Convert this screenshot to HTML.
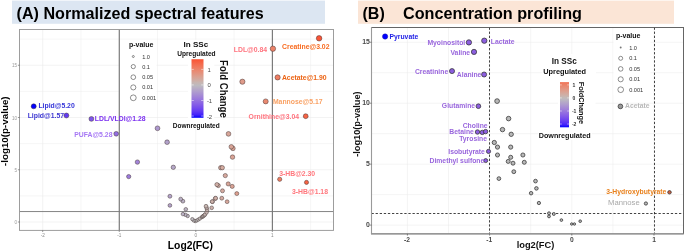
<!DOCTYPE html>
<html><head><meta charset="utf-8"><style>
html,body{margin:0;padding:0;background:#fff;}
body{width:685px;height:252px;overflow:hidden;font-family:"Liberation Sans",sans-serif;}
svg{display:block;will-change:transform;}
</style></head><body>
<svg width="685" height="252" viewBox="0 0 685 252">
<rect width="685" height="252" fill="#fff"/>
<rect x="12" y="0.6" width="313" height="23.2" fill="#dce6f2"/>
<rect x="358" y="0.6" width="316" height="23.2" fill="#fbe5d6"/>
<text x="16.6" y="19.0" font-family="&quot;Liberation Sans&quot;, sans-serif" font-weight="bold" font-size="16.12" fill="#000">(A) Normalized spectral features</text>
<text x="362.5" y="19.0" font-family="&quot;Liberation Sans&quot;, sans-serif" font-weight="bold" font-size="16" fill="#000">(B)</text>
<text x="403" y="19.0" font-family="&quot;Liberation Sans&quot;, sans-serif" font-weight="bold" font-size="16.19" fill="#000">Concentration profiling</text>
<line x1="42.70" y1="29.5" x2="42.70" y2="230.4" stroke="#ebebeb" stroke-width="0.6"/>
<line x1="80.98" y1="29.5" x2="80.98" y2="230.4" stroke="#ebebeb" stroke-width="0.45"/>
<line x1="119.25" y1="29.5" x2="119.25" y2="230.4" stroke="#ebebeb" stroke-width="0.6"/>
<line x1="157.53" y1="29.5" x2="157.53" y2="230.4" stroke="#ebebeb" stroke-width="0.45"/>
<line x1="195.80" y1="29.5" x2="195.80" y2="230.4" stroke="#ebebeb" stroke-width="0.6"/>
<line x1="234.08" y1="29.5" x2="234.08" y2="230.4" stroke="#ebebeb" stroke-width="0.45"/>
<line x1="272.35" y1="29.5" x2="272.35" y2="230.4" stroke="#ebebeb" stroke-width="0.6"/>
<line x1="310.62" y1="29.5" x2="310.62" y2="230.4" stroke="#ebebeb" stroke-width="0.45"/>
<line x1="19.5" y1="222.00" x2="333.5" y2="222.00" stroke="#ebebeb" stroke-width="0.6"/>
<line x1="19.5" y1="195.88" x2="333.5" y2="195.88" stroke="#ebebeb" stroke-width="0.45"/>
<line x1="19.5" y1="169.75" x2="333.5" y2="169.75" stroke="#ebebeb" stroke-width="0.6"/>
<line x1="19.5" y1="143.62" x2="333.5" y2="143.62" stroke="#ebebeb" stroke-width="0.45"/>
<line x1="19.5" y1="117.50" x2="333.5" y2="117.50" stroke="#ebebeb" stroke-width="0.6"/>
<line x1="19.5" y1="91.38" x2="333.5" y2="91.38" stroke="#ebebeb" stroke-width="0.45"/>
<line x1="19.5" y1="65.25" x2="333.5" y2="65.25" stroke="#ebebeb" stroke-width="0.6"/>
<line x1="19.5" y1="39.12" x2="333.5" y2="39.12" stroke="#ebebeb" stroke-width="0.45"/>
<line x1="119.25" y1="29.5" x2="119.25" y2="230.4" stroke="#555" stroke-width="0.9"/>
<line x1="272.35" y1="29.5" x2="272.35" y2="230.4" stroke="#555" stroke-width="0.9"/>
<line x1="19.5" y1="211.55" x2="333.5" y2="211.55" stroke="#777" stroke-width="0.9"/>
<rect x="120" y="40" width="36.5" height="63" fill="#fff"/>
<text x="141.2" y="46.6" font-family="&quot;Liberation Sans&quot;, sans-serif" font-weight="bold" font-size="7" fill="#111" text-anchor="middle">p-value</text>
<circle cx="133.3" cy="56.5" r="1.0" fill="#fff" stroke="#333" stroke-width="0.55"/>
<text x="142.2" y="58.5" font-family="&quot;Liberation Sans&quot;, sans-serif" font-size="5.6" fill="#333">1.0</text>
<circle cx="133.3" cy="66.6" r="2.1" fill="#fff" stroke="#333" stroke-width="0.55"/>
<text x="142.2" y="68.6" font-family="&quot;Liberation Sans&quot;, sans-serif" font-size="5.6" fill="#333">0.1</text>
<circle cx="133.3" cy="77.2" r="2.35" fill="#fff" stroke="#333" stroke-width="0.55"/>
<text x="142.2" y="79.2" font-family="&quot;Liberation Sans&quot;, sans-serif" font-size="5.6" fill="#333">0.05</text>
<circle cx="133.3" cy="87.4" r="2.55" fill="#fff" stroke="#333" stroke-width="0.55"/>
<text x="142.2" y="89.4" font-family="&quot;Liberation Sans&quot;, sans-serif" font-size="5.6" fill="#333">0.01</text>
<circle cx="133.3" cy="97.8" r="2.9" fill="#fff" stroke="#333" stroke-width="0.55"/>
<text x="142.2" y="99.8" font-family="&quot;Liberation Sans&quot;, sans-serif" font-size="5.6" fill="#333">0.001</text>
<rect x="172" y="39.8" width="48" height="17.5" fill="#fff"/>
<rect x="188" y="57" width="26.3" height="64" fill="#fff"/>
<rect x="170" y="121" width="52" height="8" fill="#fff"/>
<text x="195.9" y="46.5" font-family="&quot;Liberation Sans&quot;, sans-serif" font-weight="bold" font-size="8.1" fill="#111" text-anchor="middle">In SSc</text>
<text x="196.4" y="55.9" font-family="&quot;Liberation Sans&quot;, sans-serif" font-weight="bold" font-size="6.6" fill="#111" text-anchor="middle">Upregulated</text>
<text x="196.2" y="127.6" font-family="&quot;Liberation Sans&quot;, sans-serif" font-weight="bold" font-size="6.5" fill="#111" text-anchor="middle">Downregulated</text>
<defs><linearGradient id="gA" x1="0" y1="0" x2="0" y2="1"><stop offset="0.000" stop-color="#fa5233"/><stop offset="0.050" stop-color="#f66243"/><stop offset="0.100" stop-color="#f37053"/><stop offset="0.150" stop-color="#ee7d62"/><stop offset="0.200" stop-color="#e98a72"/><stop offset="0.250" stop-color="#e29581"/><stop offset="0.300" stop-color="#dba191"/><stop offset="0.350" stop-color="#d2aba1"/><stop offset="0.400" stop-color="#c7b6b2"/><stop offset="0.450" stop-color="#bdbac0"/><stop offset="0.500" stop-color="#b7acc6"/><stop offset="0.550" stop-color="#b09ecd"/><stop offset="0.600" stop-color="#a890d3"/><stop offset="0.650" stop-color="#a081d9"/><stop offset="0.700" stop-color="#9673df"/><stop offset="0.750" stop-color="#8b64e4"/><stop offset="0.800" stop-color="#7e55ea"/><stop offset="0.850" stop-color="#6f46ef"/><stop offset="0.900" stop-color="#5c35f5"/><stop offset="0.950" stop-color="#4221fa"/><stop offset="1.000" stop-color="#0000ff"/></linearGradient>
<linearGradient id="gB" x1="0" y1="0" x2="0" y2="1"><stop offset="0.000" stop-color="#f17457"/><stop offset="0.050" stop-color="#ed8065"/><stop offset="0.100" stop-color="#e88b73"/><stop offset="0.150" stop-color="#e39581"/><stop offset="0.200" stop-color="#dc9f8f"/><stop offset="0.250" stop-color="#d4a99d"/><stop offset="0.300" stop-color="#ccb2ab"/><stop offset="0.350" stop-color="#c1bbba"/><stop offset="0.400" stop-color="#bab5c2"/><stop offset="0.450" stop-color="#b5a8c8"/><stop offset="0.500" stop-color="#af9cce"/><stop offset="0.550" stop-color="#a88fd3"/><stop offset="0.600" stop-color="#a182d8"/><stop offset="0.650" stop-color="#9876de"/><stop offset="0.700" stop-color="#8f69e3"/><stop offset="0.750" stop-color="#845ce8"/><stop offset="0.800" stop-color="#784eec"/><stop offset="0.850" stop-color="#6940f1"/><stop offset="0.900" stop-color="#5731f6"/><stop offset="0.950" stop-color="#3e1ffa"/><stop offset="1.000" stop-color="#0000ff"/></linearGradient></defs>
<rect x="191.5" y="59.2" width="12" height="58.6" fill="url(#gA)"/>
<line x1="191.5" y1="69.4" x2="193.8" y2="69.4" stroke="#fff" stroke-width="0.5"/>
<line x1="201.2" y1="69.4" x2="203.5" y2="69.4" stroke="#fff" stroke-width="0.5"/>
<text x="207.5" y="71.5" font-family="&quot;Liberation Sans&quot;, sans-serif" font-size="5.9" fill="#444">1</text>
<line x1="191.5" y1="84.9" x2="193.8" y2="84.9" stroke="#fff" stroke-width="0.5"/>
<line x1="201.2" y1="84.9" x2="203.5" y2="84.9" stroke="#fff" stroke-width="0.5"/>
<text x="207.5" y="87.0" font-family="&quot;Liberation Sans&quot;, sans-serif" font-size="5.9" fill="#444">0</text>
<line x1="191.5" y1="100.5" x2="193.8" y2="100.5" stroke="#fff" stroke-width="0.5"/>
<line x1="201.2" y1="100.5" x2="203.5" y2="100.5" stroke="#fff" stroke-width="0.5"/>
<text x="206.9" y="102.5" font-family="&quot;Liberation Sans&quot;, sans-serif" font-size="5.9" fill="#444">-1</text>
<line x1="191.5" y1="116.0" x2="193.8" y2="116.0" stroke="#fff" stroke-width="0.5"/>
<line x1="201.2" y1="116.0" x2="203.5" y2="116.0" stroke="#fff" stroke-width="0.5"/>
<text x="206.9" y="118.6" font-family="&quot;Liberation Sans&quot;, sans-serif" font-size="5.9" fill="#444">-2</text>
<text transform="translate(219.5,88.9) rotate(90)" font-family="&quot;Liberation Sans&quot;, sans-serif" font-weight="bold" font-size="10.4" fill="#111" text-anchor="middle" textLength="57.6" lengthAdjust="spacingAndGlyphs">Fold Change</text>
<rect x="19.5" y="29.5" width="314.0" height="200.9" fill="none" stroke="#999" stroke-width="0.95"/>
<line x1="17.9" y1="222.00" x2="19.5" y2="222.00" stroke="#555" stroke-width="0.6"/>
<text x="17.0" y="224.00" font-family="&quot;Liberation Sans&quot;, sans-serif" font-size="4.6" fill="#999" text-anchor="end">0</text>
<line x1="17.9" y1="169.75" x2="19.5" y2="169.75" stroke="#555" stroke-width="0.6"/>
<text x="17.0" y="171.75" font-family="&quot;Liberation Sans&quot;, sans-serif" font-size="4.6" fill="#999" text-anchor="end">5</text>
<line x1="17.9" y1="117.50" x2="19.5" y2="117.50" stroke="#555" stroke-width="0.6"/>
<text x="17.0" y="119.50" font-family="&quot;Liberation Sans&quot;, sans-serif" font-size="4.6" fill="#999" text-anchor="end">10</text>
<line x1="17.9" y1="65.25" x2="19.5" y2="65.25" stroke="#555" stroke-width="0.6"/>
<text x="17.0" y="67.25" font-family="&quot;Liberation Sans&quot;, sans-serif" font-size="4.6" fill="#999" text-anchor="end">15</text>
<line x1="42.70" y1="230.4" x2="42.70" y2="232.0" stroke="#555" stroke-width="0.6"/>
<text x="42.70" y="236.80" font-family="&quot;Liberation Sans&quot;, sans-serif" font-size="4.6" fill="#888" text-anchor="middle">-2</text>
<line x1="119.25" y1="230.4" x2="119.25" y2="232.0" stroke="#555" stroke-width="0.6"/>
<text x="119.25" y="236.80" font-family="&quot;Liberation Sans&quot;, sans-serif" font-size="4.6" fill="#888" text-anchor="middle">-1</text>
<line x1="195.80" y1="230.4" x2="195.80" y2="232.0" stroke="#555" stroke-width="0.6"/>
<text x="195.80" y="236.80" font-family="&quot;Liberation Sans&quot;, sans-serif" font-size="4.6" fill="#888" text-anchor="middle">0</text>
<line x1="272.35" y1="230.4" x2="272.35" y2="232.0" stroke="#555" stroke-width="0.6"/>
<text x="272.35" y="236.80" font-family="&quot;Liberation Sans&quot;, sans-serif" font-size="4.6" fill="#888" text-anchor="middle">1</text>
<text x="190.4" y="248.8" font-family="&quot;Liberation Sans&quot;, sans-serif" font-weight="bold" font-size="10.3" fill="#000" text-anchor="middle">Log2(FC)</text>
<text transform="translate(7.6,131.2) rotate(-90)" font-family="&quot;Liberation Sans&quot;, sans-serif" font-weight="bold" font-size="9.8" fill="#000" text-anchor="middle">-log10(p-value)</text>
<circle cx="195.2" cy="221.2" r="1.58" fill="#bebdbe" stroke="#3c2e2e" stroke-opacity="0.85" stroke-width="0.55"/>
<circle cx="193.7" cy="220.5" r="1.61" fill="#bdbcbf" stroke="#3c2e2e" stroke-opacity="0.85" stroke-width="0.55"/>
<circle cx="196.8" cy="220.5" r="1.61" fill="#bfbdbd" stroke="#3c2e2e" stroke-opacity="0.85" stroke-width="0.55"/>
<circle cx="198.3" cy="219.6" r="1.64" fill="#c0bcbb" stroke="#3c2e2e" stroke-opacity="0.85" stroke-width="0.55"/>
<circle cx="192.3" cy="219.1" r="1.66" fill="#bdbbc0" stroke="#3c2e2e" stroke-opacity="0.85" stroke-width="0.55"/>
<circle cx="199.9" cy="218.6" r="1.67" fill="#c2bbb9" stroke="#3c2e2e" stroke-opacity="0.85" stroke-width="0.55"/>
<circle cx="201.9" cy="217.1" r="1.71" fill="#c3bab7" stroke="#3c2e2e" stroke-opacity="0.85" stroke-width="0.55"/>
<circle cx="202.6" cy="216.6" r="1.72" fill="#c4b9b6" stroke="#3c2e2e" stroke-opacity="0.85" stroke-width="0.55"/>
<circle cx="187.7" cy="216" r="1.73" fill="#bbb6c2" stroke="#3c2e2e" stroke-opacity="0.85" stroke-width="0.55"/>
<circle cx="203.3" cy="216" r="1.73" fill="#c5b9b5" stroke="#3c2e2e" stroke-opacity="0.85" stroke-width="0.55"/>
<circle cx="204.3" cy="215.3" r="1.74" fill="#c5b8b4" stroke="#3c2e2e" stroke-opacity="0.85" stroke-width="0.55"/>
<circle cx="185.4" cy="214.8" r="1.75" fill="#bab4c3" stroke="#3c2e2e" stroke-opacity="0.85" stroke-width="0.55"/>
<circle cx="205" cy="214.5" r="1.75" fill="#c6b7b4" stroke="#3c2e2e" stroke-opacity="0.85" stroke-width="0.55"/>
<circle cx="182.9" cy="214.1" r="1.76" fill="#b9b1c4" stroke="#3c2e2e" stroke-opacity="0.85" stroke-width="0.55"/>
<circle cx="206.6" cy="212.4" r="1.79" fill="#c7b6b2" stroke="#3c2e2e" stroke-opacity="0.85" stroke-width="0.55"/>
<circle cx="207.1" cy="209.9" r="1.82" fill="#c8b6b1" stroke="#3c2e2e" stroke-opacity="0.85" stroke-width="0.55"/>
<circle cx="185.8" cy="209.3" r="1.83" fill="#bab4c3" stroke="#3c2e2e" stroke-opacity="0.85" stroke-width="0.55"/>
<circle cx="206.6" cy="207.8" r="1.85" fill="#c7b6b2" stroke="#3c2e2e" stroke-opacity="0.85" stroke-width="0.55"/>
<circle cx="211.7" cy="207.8" r="1.85" fill="#cbb2ac" stroke="#3c2e2e" stroke-opacity="0.85" stroke-width="0.55"/>
<circle cx="206" cy="206.2" r="1.87" fill="#c7b7b2" stroke="#3c2e2e" stroke-opacity="0.85" stroke-width="0.55"/>
<circle cx="169.9" cy="205.4" r="1.88" fill="#b3a4ca" stroke="#3c2e2e" stroke-opacity="0.85" stroke-width="0.55"/>
<circle cx="212.5" cy="201.7" r="1.92" fill="#ccb2ab" stroke="#3c2e2e" stroke-opacity="0.85" stroke-width="0.55"/>
<circle cx="227.1" cy="201.7" r="1.92" fill="#d6a79b" stroke="#3c2e2e" stroke-opacity="0.85" stroke-width="0.55"/>
<circle cx="212.2" cy="201.6" r="1.92" fill="#ccb2ab" stroke="#3c2e2e" stroke-opacity="0.85" stroke-width="0.55"/>
<circle cx="182.9" cy="201.2" r="1.92" fill="#b9b1c4" stroke="#3c2e2e" stroke-opacity="0.85" stroke-width="0.55"/>
<circle cx="180.7" cy="199.1" r="1.94" fill="#b8afc5" stroke="#3c2e2e" stroke-opacity="0.85" stroke-width="0.55"/>
<circle cx="215.3" cy="198.5" r="1.95" fill="#ceb0a8" stroke="#3c2e2e" stroke-opacity="0.85" stroke-width="0.55"/>
<circle cx="215.6" cy="198.2" r="1.95" fill="#ceb0a8" stroke="#3c2e2e" stroke-opacity="0.85" stroke-width="0.55"/>
<circle cx="221.8" cy="198.2" r="1.95" fill="#d2aba1" stroke="#3c2e2e" stroke-opacity="0.85" stroke-width="0.55"/>
<circle cx="169.9" cy="196.25" r="1.97" fill="#b3a4ca" stroke="#3c2e2e" stroke-opacity="0.85" stroke-width="0.55"/>
<circle cx="236.8" cy="193.6" r="1.99" fill="#dca090" stroke="#3c2e2e" stroke-opacity="0.85" stroke-width="0.55"/>
<circle cx="222.5" cy="190.8" r="2.02" fill="#d3aaa0" stroke="#3c2e2e" stroke-opacity="0.85" stroke-width="0.55"/>
<circle cx="232.2" cy="186.4" r="2.05" fill="#d9a395" stroke="#3c2e2e" stroke-opacity="0.85" stroke-width="0.55"/>
<circle cx="218.3" cy="185.6" r="2.06" fill="#d0aea5" stroke="#3c2e2e" stroke-opacity="0.85" stroke-width="0.55"/>
<circle cx="216.9" cy="184.6" r="2.07" fill="#cfafa6" stroke="#3c2e2e" stroke-opacity="0.85" stroke-width="0.55"/>
<circle cx="228.2" cy="183.9" r="2.07" fill="#d7a699" stroke="#3c2e2e" stroke-opacity="0.85" stroke-width="0.55"/>
<circle cx="306.5" cy="182.4" r="2.08" fill="#f66344" stroke="#3c2e2e" stroke-opacity="0.85" stroke-width="0.55"/>
<circle cx="279.7" cy="179.3" r="2.11" fill="#ee7d61" stroke="#3c2e2e" stroke-opacity="0.85" stroke-width="0.55"/>
<circle cx="128.7" cy="176.6" r="2.13" fill="#9c7bdb" stroke="#3c2e2e" stroke-opacity="0.85" stroke-width="0.55"/>
<circle cx="225.3" cy="175.6" r="2.13" fill="#d5a89d" stroke="#3c2e2e" stroke-opacity="0.85" stroke-width="0.55"/>
<circle cx="220.7" cy="167.7" r="2.18" fill="#d2aca2" stroke="#3c2e2e" stroke-opacity="0.85" stroke-width="0.55"/>
<circle cx="222.3" cy="167.7" r="2.18" fill="#d3aba0" stroke="#3c2e2e" stroke-opacity="0.85" stroke-width="0.55"/>
<circle cx="173.3" cy="167.3" r="2.19" fill="#b5a8c8" stroke="#3c2e2e" stroke-opacity="0.85" stroke-width="0.55"/>
<circle cx="137.4" cy="162.1" r="2.22" fill="#a284d8" stroke="#3c2e2e" stroke-opacity="0.85" stroke-width="0.55"/>
<circle cx="232.5" cy="157.1" r="2.25" fill="#d9a395" stroke="#3c2e2e" stroke-opacity="0.85" stroke-width="0.55"/>
<circle cx="232.9" cy="148.4" r="2.30" fill="#d9a394" stroke="#3c2e2e" stroke-opacity="0.85" stroke-width="0.55"/>
<circle cx="231.3" cy="146.8" r="2.30" fill="#d8a496" stroke="#3c2e2e" stroke-opacity="0.85" stroke-width="0.55"/>
<circle cx="167.1" cy="142.2" r="2.33" fill="#b2a2cb" stroke="#3c2e2e" stroke-opacity="0.85" stroke-width="0.55"/>
<circle cx="228.5" cy="133.9" r="2.37" fill="#d7a699" stroke="#3c2e2e" stroke-opacity="0.85" stroke-width="0.55"/>
<circle cx="116.2" cy="133.8" r="2.37" fill="#936fe0" stroke="#3c2e2e" stroke-opacity="0.85" stroke-width="0.55"/>
<circle cx="157.5" cy="128.3" r="2.40" fill="#ad98cf" stroke="#3c2e2e" stroke-opacity="0.85" stroke-width="0.55"/>
<circle cx="91.4" cy="118.9" r="2.44" fill="#7e56ea" stroke="#3c2e2e" stroke-opacity="0.85" stroke-width="0.55"/>
<circle cx="305.7" cy="116.2" r="2.45" fill="#f66445" stroke="#3c2e2e" stroke-opacity="0.85" stroke-width="0.55"/>
<circle cx="66.4" cy="115.5" r="2.46" fill="#623af3" stroke="#3c2e2e" stroke-opacity="0.85" stroke-width="0.55"/>
<circle cx="33.7" cy="106.3" r="2.50" fill="#0201ff" stroke="#3c2e2e" stroke-opacity="0.85" stroke-width="0.55"/>
<circle cx="265.7" cy="101.4" r="2.52" fill="#e98970" stroke="#3c2e2e" stroke-opacity="0.85" stroke-width="0.55"/>
<circle cx="242.4" cy="81.7" r="2.60" fill="#df9b8a" stroke="#3c2e2e" stroke-opacity="0.85" stroke-width="0.55"/>
<circle cx="277.6" cy="77.4" r="2.62" fill="#ee7e63" stroke="#3c2e2e" stroke-opacity="0.85" stroke-width="0.55"/>
<circle cx="272.9" cy="48.7" r="2.72" fill="#ec8268" stroke="#3c2e2e" stroke-opacity="0.85" stroke-width="0.55"/>
<circle cx="319.1" cy="38.3" r="2.76" fill="#f95537" stroke="#3c2e2e" stroke-opacity="0.85" stroke-width="0.55"/>
<text x="38.4" y="107.95" font-family="&quot;Liberation Sans&quot;, sans-serif" font-weight="bold" font-size="6.85" fill="#3434d8">Lipid@5.20</text>
<text x="27.7" y="118.25" font-family="&quot;Liberation Sans&quot;, sans-serif" font-weight="bold" font-size="6.85" fill="#3c36d2">Lipid@1.57</text>
<text x="94.8" y="121.15" font-family="&quot;Liberation Sans&quot;, sans-serif" font-weight="bold" font-size="6.85" fill="#7a2ef0">LDL/VLDl@1.28</text>
<text x="74.2" y="136.65" font-family="&quot;Liberation Sans&quot;, sans-serif" font-weight="bold" font-size="6.85" fill="#a678f4">PUFA@5.28</text>
<text x="233.8" y="51.95" font-family="&quot;Liberation Sans&quot;, sans-serif" font-weight="bold" font-size="6.85" fill="#ff737e">LDL@0.84</text>
<text x="282.1" y="48.55" font-family="&quot;Liberation Sans&quot;, sans-serif" font-weight="bold" font-size="6.85" fill="#f86a1e">Creatine@3.02</text>
<text x="281.9" y="80.05" font-family="&quot;Liberation Sans&quot;, sans-serif" font-weight="bold" font-size="6.85" fill="#ec6414">Acetate@1.90</text>
<text x="272.9" y="104.35" font-family="&quot;Liberation Sans&quot;, sans-serif" font-weight="bold" font-size="6.85" fill="#f9a062">Mannose@5.17</text>
<text x="248.6" y="119.35" font-family="&quot;Liberation Sans&quot;, sans-serif" font-weight="bold" font-size="6.85" fill="#ff737e">Ornithine@3.04</text>
<text x="279.2" y="175.75" font-family="&quot;Liberation Sans&quot;, sans-serif" font-weight="bold" font-size="6.85" fill="#ff767c">3-HB@2.30</text>
<text x="292.0" y="193.85" font-family="&quot;Liberation Sans&quot;, sans-serif" font-weight="bold" font-size="6.85" fill="#ff767c">3-HB@1.18</text>
<line x1="407.40" y1="27.5" x2="407.40" y2="233.8" stroke="#ebebeb" stroke-width="0.55"/>
<line x1="448.50" y1="27.5" x2="448.50" y2="233.8" stroke="#ebebeb" stroke-width="0.55"/>
<line x1="489.60" y1="27.5" x2="489.60" y2="233.8" stroke="#ebebeb" stroke-width="0.55"/>
<line x1="530.70" y1="27.5" x2="530.70" y2="233.8" stroke="#ebebeb" stroke-width="0.55"/>
<line x1="571.80" y1="27.5" x2="571.80" y2="233.8" stroke="#ebebeb" stroke-width="0.55"/>
<line x1="612.90" y1="27.5" x2="612.90" y2="233.8" stroke="#ebebeb" stroke-width="0.55"/>
<line x1="654.00" y1="27.5" x2="654.00" y2="233.8" stroke="#ebebeb" stroke-width="0.55"/>
<line x1="371.5" y1="225.10" x2="683.5" y2="225.10" stroke="#ebebeb" stroke-width="0.55"/>
<line x1="371.5" y1="194.62" x2="683.5" y2="194.62" stroke="#ebebeb" stroke-width="0.55"/>
<line x1="371.5" y1="164.15" x2="683.5" y2="164.15" stroke="#ebebeb" stroke-width="0.55"/>
<line x1="371.5" y1="133.68" x2="683.5" y2="133.68" stroke="#ebebeb" stroke-width="0.55"/>
<line x1="371.5" y1="103.20" x2="683.5" y2="103.20" stroke="#ebebeb" stroke-width="0.55"/>
<line x1="371.5" y1="72.72" x2="683.5" y2="72.72" stroke="#ebebeb" stroke-width="0.55"/>
<line x1="371.5" y1="42.25" x2="683.5" y2="42.25" stroke="#ebebeb" stroke-width="0.55"/>
<rect x="613.5" y="29" width="37" height="66" fill="#fff"/>
<text x="628.2" y="38.4" font-family="&quot;Liberation Sans&quot;, sans-serif" font-weight="bold" font-size="7" fill="#111" text-anchor="middle">p-value</text>
<circle cx="620.7" cy="47.5" r="0.95" fill="#777"/>
<text x="629.2" y="49.5" font-family="&quot;Liberation Sans&quot;, sans-serif" font-size="5.6" fill="#333">1.0</text>
<circle cx="620.7" cy="58.3" r="2.0" fill="#fff" stroke="#333" stroke-width="0.55"/>
<text x="629.2" y="60.3" font-family="&quot;Liberation Sans&quot;, sans-serif" font-size="5.6" fill="#333">0.1</text>
<circle cx="620.7" cy="68.9" r="2.3" fill="#fff" stroke="#333" stroke-width="0.55"/>
<text x="629.2" y="70.9" font-family="&quot;Liberation Sans&quot;, sans-serif" font-size="5.6" fill="#333">0.05</text>
<circle cx="620.7" cy="79.3" r="2.55" fill="#fff" stroke="#333" stroke-width="0.55"/>
<text x="629.2" y="81.3" font-family="&quot;Liberation Sans&quot;, sans-serif" font-size="5.6" fill="#333">0.01</text>
<circle cx="620.7" cy="89.7" r="2.85" fill="#fff" stroke="#333" stroke-width="0.55"/>
<text x="629.2" y="91.7" font-family="&quot;Liberation Sans&quot;, sans-serif" font-size="5.6" fill="#333">0.001</text>
<rect x="542" y="54" width="54" height="25" fill="#fff"/>
<rect x="558" y="79" width="37.5" height="50" fill="#fff"/>
<rect x="538" y="129" width="54" height="11" fill="#fff"/>
<text x="564.2" y="64.0" font-family="&quot;Liberation Sans&quot;, sans-serif" font-weight="bold" font-size="8.2" fill="#111" text-anchor="middle">In SSc</text>
<text x="564.7" y="74.1" font-family="&quot;Liberation Sans&quot;, sans-serif" font-weight="bold" font-size="7.35" fill="#111" text-anchor="middle">Upregulated</text>
<text x="564.7" y="138.4" font-family="&quot;Liberation Sans&quot;, sans-serif" font-weight="bold" font-size="7.2" fill="#111" text-anchor="middle">Downregulated</text>
<rect x="560" y="82.1" width="9" height="45.2" fill="url(#gB)"/>
<line x1="560" y1="84.9" x2="561.8" y2="84.9" stroke="#fff" stroke-width="0.5"/>
<line x1="567.2" y1="84.9" x2="569" y2="84.9" stroke="#fff" stroke-width="0.5"/>
<text x="572.5" y="86.7" font-family="&quot;Liberation Sans&quot;, sans-serif" font-weight="bold" font-size="5.0" fill="#333">1</text>
<line x1="560" y1="97.9" x2="561.8" y2="97.9" stroke="#fff" stroke-width="0.5"/>
<line x1="567.2" y1="97.9" x2="569" y2="97.9" stroke="#fff" stroke-width="0.5"/>
<text x="572.5" y="99.7" font-family="&quot;Liberation Sans&quot;, sans-serif" font-weight="bold" font-size="5.0" fill="#333">0</text>
<line x1="560" y1="111.0" x2="561.8" y2="111.0" stroke="#fff" stroke-width="0.5"/>
<line x1="567.2" y1="111.0" x2="569" y2="111.0" stroke="#fff" stroke-width="0.5"/>
<text x="571.9" y="112.8" font-family="&quot;Liberation Sans&quot;, sans-serif" font-weight="bold" font-size="5.0" fill="#333">-1</text>
<line x1="560" y1="124.0" x2="561.8" y2="124.0" stroke="#fff" stroke-width="0.5"/>
<line x1="567.2" y1="124.0" x2="569" y2="124.0" stroke="#fff" stroke-width="0.5"/>
<text x="571.9" y="125.8" font-family="&quot;Liberation Sans&quot;, sans-serif" font-weight="bold" font-size="5.0" fill="#333">-2</text>
<text transform="translate(578.9,102.9) rotate(90)" font-family="&quot;Liberation Sans&quot;, sans-serif" font-weight="bold" font-size="7.9" fill="#111" text-anchor="middle" textLength="42.4" lengthAdjust="spacingAndGlyphs">FoldChange</text>
<line x1="489.5" y1="27.5" x2="489.5" y2="233.8" stroke="#222" stroke-width="0.85" stroke-dasharray="2.3 1.8"/>
<line x1="654.5" y1="27.5" x2="654.5" y2="233.8" stroke="#222" stroke-width="0.85" stroke-dasharray="2.3 1.8"/>
<line x1="371.5" y1="213.5" x2="683.5" y2="213.5" stroke="#222" stroke-width="0.85" stroke-dasharray="2.3 1.8"/>
<circle cx="571.7" cy="224.0" r="1.22" fill="#b8b8b8" stroke="#333" stroke-width="0.75"/>
<circle cx="574.4" cy="224.0" r="1.22" fill="#b8b8b8" stroke="#333" stroke-width="0.75"/>
<circle cx="580.2" cy="221.2" r="1.33" fill="#b8b8b8" stroke="#333" stroke-width="0.75"/>
<circle cx="561.4" cy="220.1" r="1.36" fill="#b8b8b8" stroke="#333" stroke-width="0.75"/>
<circle cx="549.0" cy="216.4" r="1.44" fill="#b8b8b8" stroke="#333" stroke-width="0.75"/>
<circle cx="553.8" cy="214.0" r="1.48" fill="#b8b8b8" stroke="#333" stroke-width="0.75"/>
<circle cx="549.0" cy="213.3" r="1.49" fill="#b8b8b8" stroke="#333" stroke-width="0.75"/>
<circle cx="645.9" cy="203.5" r="1.63" fill="#b8b8b8" stroke="#333" stroke-width="0.75"/>
<circle cx="538.9" cy="203.0" r="1.64" fill="#b8b8b8" stroke="#333" stroke-width="0.75"/>
<circle cx="531.1" cy="193.2" r="1.75" fill="#b8b8b8" stroke="#333" stroke-width="0.75"/>
<circle cx="669.5" cy="192.3" r="1.76" fill="#d0603f" stroke="#333" stroke-width="0.75"/>
<circle cx="536.4" cy="188.4" r="1.79" fill="#b8b8b8" stroke="#333" stroke-width="0.75"/>
<circle cx="535.5" cy="181.1" r="1.86" fill="#b8b8b8" stroke="#333" stroke-width="0.75"/>
<circle cx="498.9" cy="178.6" r="1.88" fill="#b8b8b8" stroke="#333" stroke-width="0.75"/>
<circle cx="513.8" cy="171.7" r="1.94" fill="#b8b8b8" stroke="#333" stroke-width="0.75"/>
<circle cx="513.0" cy="163.2" r="2.00" fill="#b8b8b8" stroke="#333" stroke-width="0.75"/>
<circle cx="524.3" cy="162.3" r="2.01" fill="#b8b8b8" stroke="#333" stroke-width="0.75"/>
<circle cx="508.2" cy="161.4" r="2.01" fill="#b8b8b8" stroke="#333" stroke-width="0.75"/>
<circle cx="485.7" cy="160.6" r="2.02" fill="#8c5ee0" stroke="#333" stroke-width="0.75"/>
<circle cx="510.7" cy="157.3" r="2.04" fill="#b8b8b8" stroke="#333" stroke-width="0.75"/>
<circle cx="497.5" cy="155.0" r="2.06" fill="#b8b8b8" stroke="#333" stroke-width="0.75"/>
<circle cx="522.9" cy="155.0" r="2.06" fill="#b8b8b8" stroke="#333" stroke-width="0.75"/>
<circle cx="488.5" cy="151.4" r="2.08" fill="#8c5ee0" stroke="#333" stroke-width="0.75"/>
<circle cx="497.5" cy="147.1" r="2.11" fill="#b8b8b8" stroke="#333" stroke-width="0.75"/>
<circle cx="510.7" cy="147.1" r="2.11" fill="#b8b8b8" stroke="#333" stroke-width="0.75"/>
<circle cx="494.3" cy="142.5" r="2.14" fill="#b8b8b8" stroke="#333" stroke-width="0.75"/>
<circle cx="511.2" cy="134.3" r="2.19" fill="#b8b8b8" stroke="#333" stroke-width="0.75"/>
<circle cx="482.3" cy="132.4" r="2.20" fill="#8c5ee0" stroke="#333" stroke-width="0.75"/>
<circle cx="477.5" cy="132.0" r="2.21" fill="#8c5ee0" stroke="#333" stroke-width="0.75"/>
<circle cx="485.6" cy="131.6" r="2.21" fill="#8c5ee0" stroke="#333" stroke-width="0.75"/>
<circle cx="502.5" cy="129.6" r="2.22" fill="#b8b8b8" stroke="#333" stroke-width="0.75"/>
<circle cx="508.6" cy="118.6" r="2.28" fill="#b8b8b8" stroke="#333" stroke-width="0.75"/>
<circle cx="620.4" cy="106.4" r="2.35" fill="#999999" stroke="#333" stroke-width="0.75"/>
<circle cx="478.4" cy="106.2" r="2.35" fill="#8c5ee0" stroke="#333" stroke-width="0.75"/>
<circle cx="497.1" cy="101.1" r="2.38" fill="#b8b8b8" stroke="#333" stroke-width="0.75"/>
<circle cx="484.1" cy="74.5" r="2.51" fill="#8c5ee0" stroke="#333" stroke-width="0.75"/>
<circle cx="452.0" cy="71.1" r="2.52" fill="#8c5ee0" stroke="#333" stroke-width="0.75"/>
<circle cx="474.0" cy="51.9" r="2.61" fill="#8c5ee0" stroke="#333" stroke-width="0.75"/>
<circle cx="468.9" cy="42.4" r="2.65" fill="#8c5ee0" stroke="#333" stroke-width="0.75"/>
<circle cx="484.3" cy="40.7" r="2.66" fill="#8c5ee0" stroke="#333" stroke-width="0.75"/>
<circle cx="385.1" cy="36.5" r="2.67" fill="#0000ff" stroke="#1a1a9a" stroke-width="0.4"/>
<text x="389.5" y="39.35" font-family="&quot;Liberation Sans&quot;, sans-serif" font-weight="bold" font-size="6.8" fill="#2222e6" text-anchor="start">Pyruvate</text>
<text x="465.2" y="44.55" font-family="&quot;Liberation Sans&quot;, sans-serif" font-weight="bold" font-size="6.8" fill="#9966dd" text-anchor="end">Myoinositol</text>
<text x="490.8" y="43.85" font-family="&quot;Liberation Sans&quot;, sans-serif" font-weight="bold" font-size="6.8" fill="#9966dd" text-anchor="start">Lactate</text>
<text x="470.1" y="54.65" font-family="&quot;Liberation Sans&quot;, sans-serif" font-weight="bold" font-size="6.8" fill="#9966dd" text-anchor="end">Valine</text>
<text x="448.2" y="73.55" font-family="&quot;Liberation Sans&quot;, sans-serif" font-weight="bold" font-size="6.8" fill="#9966dd" text-anchor="end">Creatinine</text>
<text x="481.4" y="76.95" font-family="&quot;Liberation Sans&quot;, sans-serif" font-weight="bold" font-size="6.8" fill="#9966dd" text-anchor="end">Alanine</text>
<text x="475.1" y="108.05" font-family="&quot;Liberation Sans&quot;, sans-serif" font-weight="bold" font-size="6.8" fill="#9966dd" text-anchor="end">Glutamine</text>
<text x="487.6" y="127.75" font-family="&quot;Liberation Sans&quot;, sans-serif" font-weight="bold" font-size="6.8" fill="#9966dd" text-anchor="end">Choline</text>
<text x="473.9" y="134.25" font-family="&quot;Liberation Sans&quot;, sans-serif" font-weight="bold" font-size="6.8" fill="#9966dd" text-anchor="end">Betaine</text>
<text x="487.0" y="141.05" font-family="&quot;Liberation Sans&quot;, sans-serif" font-weight="bold" font-size="6.8" fill="#9966dd" text-anchor="end">Tyrosine</text>
<text x="484.9" y="153.75" font-family="&quot;Liberation Sans&quot;, sans-serif" font-weight="bold" font-size="6.8" fill="#9966dd" text-anchor="end">Isobutyrate</text>
<text x="484.3" y="162.95" font-family="&quot;Liberation Sans&quot;, sans-serif" font-weight="bold" font-size="6.8" fill="#9966dd" text-anchor="end">Dimethyl sulfone</text>
<text x="666.4" y="194.25" font-family="&quot;Liberation Sans&quot;, sans-serif" font-weight="bold" font-size="6.8" fill="#e8801c" text-anchor="end">3-Hydroxybutyrate</text>
<text x="608.1" y="205.45" font-family="&quot;Liberation Sans&quot;, sans-serif" font-size="7.7" fill="#a9a9a9" textLength="31.6" lengthAdjust="spacingAndGlyphs">Mannose</text>
<text x="625.0" y="108.45" font-family="&quot;Liberation Sans&quot;, sans-serif" font-weight="bold" font-size="6.8" fill="#b8b8b8" text-anchor="start">Acetate</text>
<rect x="371.5" y="27.5" width="312.0" height="206.3" fill="none" stroke="#555" stroke-width="0.9"/>
<line x1="371.5" y1="27.05" x2="371.5" y2="233.8" stroke="#9a9a9a" stroke-width="1.1"/>
<line x1="370.95" y1="233.8" x2="683.5" y2="233.8" stroke="#9a9a9a" stroke-width="1.3"/>
<line x1="369.7" y1="225.10" x2="371.5" y2="225.10" stroke="#444" stroke-width="0.6"/>
<text x="369.8" y="227.00" font-family="&quot;Liberation Sans&quot;, sans-serif" font-weight="bold" font-size="6.9" fill="#4a4a4a" text-anchor="end">0</text>
<line x1="369.7" y1="164.15" x2="371.5" y2="164.15" stroke="#444" stroke-width="0.6"/>
<text x="369.8" y="166.05" font-family="&quot;Liberation Sans&quot;, sans-serif" font-weight="bold" font-size="6.9" fill="#4a4a4a" text-anchor="end">5</text>
<line x1="369.7" y1="103.20" x2="371.5" y2="103.20" stroke="#444" stroke-width="0.6"/>
<text x="369.8" y="105.10" font-family="&quot;Liberation Sans&quot;, sans-serif" font-weight="bold" font-size="6.9" fill="#4a4a4a" text-anchor="end">10</text>
<line x1="369.7" y1="42.25" x2="371.5" y2="42.25" stroke="#444" stroke-width="0.6"/>
<text x="369.8" y="44.15" font-family="&quot;Liberation Sans&quot;, sans-serif" font-weight="bold" font-size="6.9" fill="#4a4a4a" text-anchor="end">15</text>
<line x1="407.40" y1="233.8" x2="407.40" y2="235.60000000000002" stroke="#444" stroke-width="0.6"/>
<text x="407.00" y="241.90" font-family="&quot;Liberation Sans&quot;, sans-serif" font-weight="bold" font-size="6.7" fill="#4a4a4a" text-anchor="middle">-2</text>
<line x1="489.60" y1="233.8" x2="489.60" y2="235.60000000000002" stroke="#444" stroke-width="0.6"/>
<text x="489.20" y="241.90" font-family="&quot;Liberation Sans&quot;, sans-serif" font-weight="bold" font-size="6.7" fill="#4a4a4a" text-anchor="middle">-1</text>
<line x1="571.80" y1="233.8" x2="571.80" y2="235.60000000000002" stroke="#444" stroke-width="0.6"/>
<text x="571.80" y="241.90" font-family="&quot;Liberation Sans&quot;, sans-serif" font-weight="bold" font-size="6.7" fill="#4a4a4a" text-anchor="middle">0</text>
<line x1="654.00" y1="233.8" x2="654.00" y2="235.60000000000002" stroke="#444" stroke-width="0.6"/>
<text x="654.00" y="241.90" font-family="&quot;Liberation Sans&quot;, sans-serif" font-weight="bold" font-size="6.7" fill="#4a4a4a" text-anchor="middle">1</text>
<text x="535.5" y="247.6" font-family="&quot;Liberation Sans&quot;, sans-serif" font-weight="bold" font-size="9.3" fill="#111" text-anchor="middle">log2(FC)</text>
<text transform="translate(359.9,124.1) rotate(-90)" font-family="&quot;Liberation Sans&quot;, sans-serif" font-weight="bold" font-size="9.2" fill="#111" text-anchor="middle">-log10(p-value)</text>
</svg>
</body></html>
